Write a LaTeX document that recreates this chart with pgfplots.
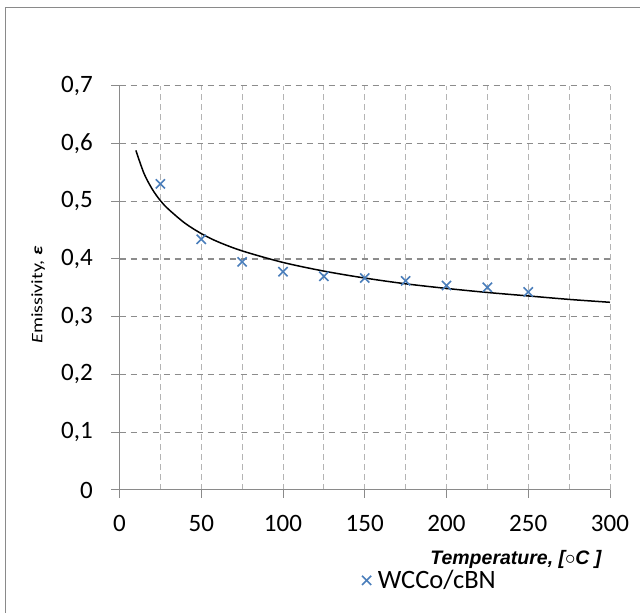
\documentclass[border=0pt]{standalone}
\usepackage{pgfplots}
\pgfplotsset{compat=1.18}
\usepackage{fontspec}
\usepackage{graphicx}
\setmainfont{Carlito}
\newfontfamily\arialfont{Liberation Sans}
\definecolor{markblue}{HTML}{4A7EBB}
\definecolor{gridh}{HTML}{8C8C8C}
\definecolor{gridv}{HTML}{B4B4B4}
\definecolor{axisgray}{HTML}{8A8A8A}

\begin{document}
\begin{tikzpicture}[x=1pt,y=1pt]
\useasboundingbox (0,0) rectangle (640,613);
% outer chart frame (right and bottom edges fall outside the picture)
\draw[axisgray, line width=1.5pt] (5.7,-10) -- (5.7,605.3) -- (650,605.3);
\begin{axis}[
    at={(119.5pt,123pt)}, anchor=south west,
    scale only axis,
    width=490.5pt, height=404.3pt,
    xmin=0, xmax=300,
    ymin=0, ymax=0.7,
    axis lines=left,
    axis line style={-, axisgray, line width=1pt},
    xtick={0,50,100,150,200,250,300},
    minor xtick={25,75,125,175,225,275},
    ytick={0,0.1,0.2,0.3,0.4,0.5,0.6,0.7},
    tick align=outside,
    major tick length=8pt,
    minor tick length=0pt,
    tick style={axisgray, line width=1pt},
    xmajorgrids, xminorgrids,
    x grid style={gridv, line width=1pt, dash pattern=on 6pt off 4pt},
    /pgf/number format/assume math mode=true,
    yticklabel={\pgfmathprintnumber[fixed,precision=1,use comma]{\tick}},
    ticklabel style={font=\fontsize{25}{25}\selectfont},
    yticklabel style={anchor=east, inner sep=0pt, xshift=-18.5pt},
    xticklabel style={anchor=north, inner sep=0pt, yshift=-17.5pt},
    xlabel={\arialfont\bfseries\itshape Temperature, [$\circ$C ]},
    xlabel style={at={(axis description cs:0.9898,-0.172)}, anchor=east,
        font=\fontsize{19.5}{19.5}\selectfont},
    ylabel={\scalebox{1.25}[1]{\textit{E}missivity, \textbf{\textit{ε}}}},
    every axis y label/.style={at={(axis description cs:-0.166,0.482)},
        rotate=90, anchor=center, font=\fontsize{16}{16}\selectfont},
    legend style={draw=none, fill=none, inner sep=0pt,
        at={(axis description cs:0.494,-0.2235)}, anchor=west,
        font=\fontsize{26.5}{26.5}\selectfont,
        nodes={inner sep=2pt}},
    legend image code/.code={\draw[#1] plot coordinates {(6pt,0pt)};
        \path (15pt,0pt);},
    clip=false,
]

% horizontal grid lines
\foreach \g in {0.1,0.2,0.3,0.4,0.5,0.6,0.7} {
    \edef\temp{\noexpand\draw[gridh, line width=1.1pt, dash pattern=on 6pt off 5pt]
        (axis cs:0,\g) -- (axis cs:300,\g);}
    \temp
}

% measured points
\addplot[only marks, mark=x, mark size=6.5pt, markblue,
    mark options={line width=1.6pt}] coordinates {
    (25,0.530)
    (50,0.434)
    (75,0.395)
    (100,0.378)
    (125,0.370)
    (150,0.367)
    (175,0.362)
    (200,0.354)
    (225,0.351)
    (250,0.343)
};
\addlegendentry{WCCo/cBN}

% trend line
\addplot[black, line width=1.5pt, smooth, forget plot] coordinates {
    (10,0.588)
    (15,0.548)
    (20,0.521)
    (25,0.501)
    (30,0.486)
    (40,0.462)
    (50,0.444)
    (60,0.430)
    (75,0.414)
    (100,0.394)
    (125,0.379)
    (150,0.367)
    (175,0.357)
    (200,0.349)
    (225,0.342)
    (250,0.336)
    (275,0.330)
    (300,0.325)
};

\end{axis}
\end{tikzpicture}
\end{document}
